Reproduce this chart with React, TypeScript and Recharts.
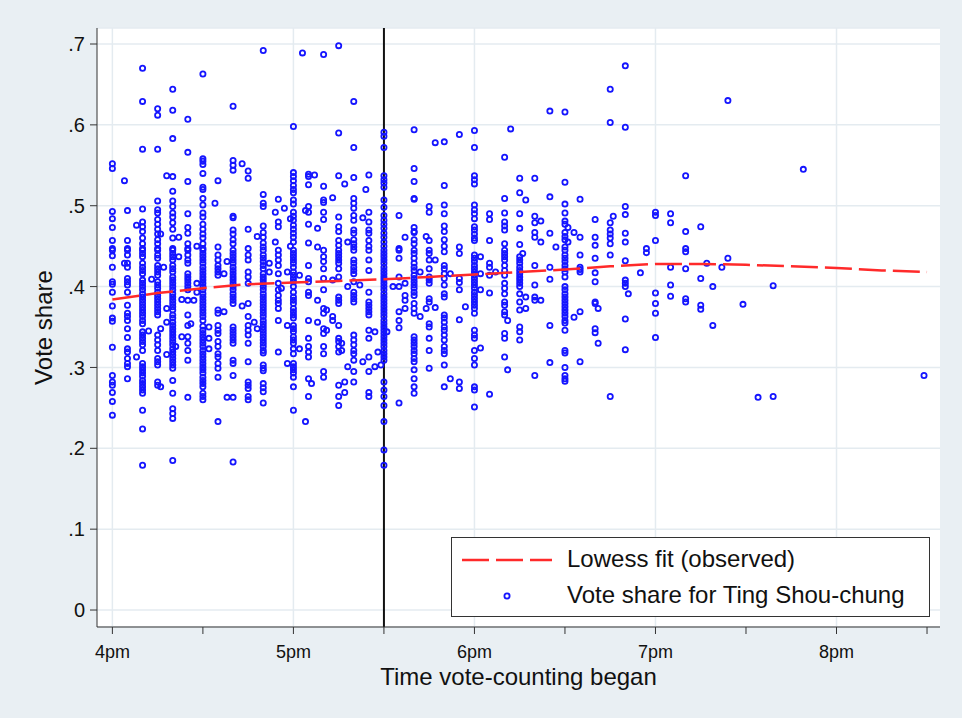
import React from 'react';
import { ScatterChart, Scatter, XAxis, YAxis, CartesianGrid, ReferenceLine } from 'recharts';

// minutes after 4pm at which vote-counting began (5-minute slots, plus a few off-slot stations)
const minutesAfter4pm: number[] = [
  0, 4, 5, 8, 10, 12, 13, 15, 16, 17, 18, 20, 21, 22, 23, 25, 26, 27, 28, 30,
  32, 34, 35, 37, 38, 40, 43, 45, 47, 48, 50, 52, 54, 55, 56, 57, 58, 59, 60,
  62, 63, 64, 65, 66, 67, 68, 70, 71, 73, 75, 76, 77, 78, 80, 82, 83, 84, 85,
  87, 88, 89, 90, 91, 93, 95, 97, 100, 102, 104, 105, 107, 110, 112, 115, 117,
  120, 122, 125, 127, 130, 131, 132, 135, 136, 137, 140, 142, 145, 147, 150,
  151, 153, 155, 160, 161, 165, 166, 170, 171, 175, 177, 180, 185, 190, 195,
  197, 199, 202, 204, 209, 214, 219, 229, 269,
];

// vote shares observed at each of the times above
const voteShares: number[][] = [
  [0.552,0.546,0.493,0.484,0.473,0.457,0.447,0.445,0.438,0.424,0.406,0.403,0.393,0.376,0.361,0.357,0.325,0.290,0.282,0.278,0.269,0.258,0.241],
  [0.531,0.429],
  [0.494,0.457,0.447,0.445,0.439,0.429,0.424,0.410,0.406,0.402,0.393,0.377,0.367,0.363,0.358,0.348,0.337,0.323,0.319,0.311,0.305,0.301,0.286],
  [0.476,0.313],
  [0.670,0.629,0.570,0.496,0.480,0.474,0.468,0.460,0.453,0.447,0.445,0.441,0.437,0.429,0.424,0.420,0.416,0.408,0.404,0.400,0.396,0.391,0.387,0.383,0.379,0.375,0.371,0.367,0.363,0.358,0.354,0.344,0.340,0.336,0.332,0.328,0.321,0.305,0.301,0.297,0.293,0.289,0.284,0.280,0.276,0.272,0.268,0.247,0.224,0.179],
  [0.345],
  [0.409],
  [0.620,0.612,0.570,0.506,0.495,0.491,0.483,0.477,0.471,0.465,0.458,0.453,0.447,0.445,0.439,0.435,0.426,0.422,0.418,0.414,0.406,0.402,0.398,0.393,0.389,0.385,0.381,0.377,0.373,0.369,0.365,0.340,0.334,0.328,0.321,0.311,0.307,0.303,0.282,0.278],
  [0.465,0.348,0.276],
  [0.424],
  [0.537,0.373,0.356,0.316],
  [0.644,0.618,0.583,0.536,0.518,0.506,0.499,0.491,0.486,0.479,0.471,0.460,0.447,0.445,0.441,0.437,0.433,0.426,0.422,0.418,0.412,0.408,0.404,0.400,0.396,0.391,0.387,0.383,0.379,0.375,0.371,0.365,0.361,0.356,0.352,0.348,0.344,0.340,0.336,0.332,0.328,0.323,0.319,0.315,0.311,0.307,0.303,0.299,0.284,0.268,0.249,0.243,0.237,0.185],
  [0.326],
  [0.461,0.437],
  [0.384,0.338],
  [0.607,0.566,0.530,0.490,0.473,0.466,0.453,0.447,0.445,0.439,0.433,0.429,0.416,0.412,0.408,0.404,0.400,0.396,0.383,0.365,0.352,0.338,0.330,0.321,0.309,0.263],
  [0.354],
  [0.383],
  [0.450,0.404,0.393],
  [0.663,0.558,0.555,0.551,0.540,0.523,0.520,0.509,0.501,0.491,0.486,0.477,0.471,0.465,0.460,0.453,0.447,0.445,0.441,0.437,0.433,0.429,0.424,0.420,0.416,0.412,0.408,0.404,0.400,0.396,0.391,0.387,0.383,0.379,0.375,0.371,0.367,0.363,0.358,0.351,0.346,0.342,0.338,0.334,0.330,0.326,0.321,0.317,0.313,0.309,0.305,0.301,0.297,0.293,0.288,0.284,0.280,0.276,0.268,0.264,0.260],
  [0.350,0.336,0.323],
  [0.503],
  [0.531,0.449,0.439,0.433,0.426,0.422,0.418,0.414,0.371,0.367,0.352,0.346,0.342,0.332,0.326,0.317,0.313,0.305,0.299,0.288,0.233],
  [0.416,0.369],
  [0.431,0.263],
  [0.623,0.556,0.550,0.544,0.487,0.485,0.470,0.465,0.458,0.453,0.445,0.441,0.437,0.433,0.429,0.424,0.420,0.416,0.412,0.408,0.404,0.400,0.396,0.391,0.387,0.383,0.379,0.350,0.346,0.342,0.338,0.334,0.330,0.309,0.305,0.290,0.263,0.183],
  [0.552,0.376],
  [0.543,0.534,0.471,0.447,0.439,0.433,0.418,0.412,0.404,0.379,0.363,0.352,0.346,0.340,0.330,0.307,0.282,0.278,0.274,0.264,0.260],
  [0.356],
  [0.462,0.348],
  [0.692,0.514,0.503,0.499,0.475,0.467,0.461,0.454,0.449,0.445,0.439,0.435,0.431,0.426,0.422,0.416,0.412,0.408,0.404,0.400,0.396,0.391,0.387,0.383,0.379,0.375,0.371,0.367,0.363,0.358,0.354,0.350,0.346,0.342,0.338,0.334,0.330,0.326,0.321,0.318,0.303,0.299,0.296,0.280,0.275,0.270,0.256],
  [0.429,0.418],
  [0.492,0.455],
  [0.508,0.480,0.474,0.445,0.439,0.433,0.426,0.416,0.404,0.396,0.389,0.383,0.379,0.373,0.358,0.319],
  [0.398],
  [0.497],
  [0.418,0.352,0.305],
  [0.484,0.450],
  [0.598,0.541,0.536,0.531,0.525,0.520,0.516,0.507,0.502,0.492,0.487,0.482,0.476,0.471,0.466,0.461,0.455,0.445,0.441,0.437,0.433,0.429,0.424,0.418,0.414,0.410,0.406,0.400,0.393,0.387,0.383,0.379,0.373,0.369,0.365,0.361,0.352,0.348,0.344,0.338,0.334,0.330,0.323,0.317,0.305,0.301,0.297,0.293,0.288,0.276,0.247],
  [0.414,0.323],
  [0.689],
  [0.494,0.233],
  [0.539,0.536,0.526,0.499,0.492,0.477,0.454,0.426,0.410,0.406,0.393,0.389,0.358,0.336,0.326,0.319,0.313,0.286,0.264],
  [0.280],
  [0.538],
  [0.472,0.449,0.383,0.356],
  [0.687,0.524,0.507,0.504,0.492,0.483,0.445,0.437,0.431,0.422,0.410,0.396,0.373,0.367,0.348,0.342,0.326,0.317,0.295,0.288],
  [0.371,0.346],
  [0.510,0.408,0.363,0.358],
  [0.698,0.590,0.537,0.486,0.474,0.468,0.457,0.451,0.445,0.441,0.437,0.433,0.429,0.422,0.412,0.387,0.383,0.379,0.352,0.336,0.332,0.326,0.319,0.278,0.264,0.253],
  [0.330,0.321],
  [0.527,0.282,0.269],
  [0.455,0.400,0.301],
  [0.629,0.572,0.535,0.509,0.503,0.497,0.488,0.482,0.470,0.466,0.458,0.453,0.449,0.445,0.433,0.429,0.424,0.420,0.416,0.406,0.393,0.389,0.385,0.381,0.340,0.334,0.328,0.321,0.317,0.309,0.295,0.282],
  [0.402],
  [0.485,0.307],
  [0.520],
  [0.538,0.492,0.480,0.470,0.466,0.457,0.450,0.445,0.433,0.420,0.393,0.381,0.377,0.373,0.369,0.365,0.346,0.336,0.313,0.295,0.269,0.264],
  [0.344,0.301],
  [0.319],
  [0.303],
  [0.591,0.586,0.572,0.537,0.532,0.528,0.523,0.507,0.498,0.488,0.482,0.477,0.472,0.466,0.461,0.455,0.450,0.445,0.441,0.437,0.433,0.429,0.424,0.420,0.416,0.412,0.408,0.404,0.400,0.396,0.391,0.387,0.383,0.379,0.375,0.371,0.367,0.363,0.358,0.354,0.350,0.346,0.342,0.338,0.334,0.330,0.326,0.321,0.317,0.313,0.309,0.282,0.272,0.264,0.253,0.233,0.198,0.179],
  [0.344],
  [0.400],
  [0.488,0.447,0.445,0.435,0.412,0.400,0.369,0.358,0.349,0.256],
  [0.461,0.404,0.389,0.383,0.373],
  [0.594,0.546,0.530,0.509,0.508,0.473,0.468,0.467,0.458,0.453,0.445,0.441,0.435,0.429,0.424,0.420,0.414,0.410,0.406,0.402,0.398,0.393,0.389,0.379,0.373,0.367,0.338,0.334,0.330,0.326,0.321,0.317,0.311,0.307,0.297,0.286,0.276,0.268],
  [0.418,0.363],
  [0.462,0.373],
  [0.499,0.492,0.457,0.445,0.441,0.433,0.422,0.412,0.408,0.404,0.385,0.381,0.354,0.350,0.336,0.321,0.299],
  [0.578,0.433,0.374],
  [0.579,0.525,0.501,0.490,0.475,0.468,0.458,0.450,0.443,0.426,0.422,0.416,0.410,0.402,0.391,0.387,0.365,0.361,0.356,0.350,0.346,0.340,0.334,0.326,0.321,0.317,0.303,0.276],
  [0.416,0.286],
  [0.588,0.449,0.441,0.410,0.405,0.396,0.359,0.282,0.274],
  [0.375],
  [0.593,0.572,0.537,0.532,0.527,0.501,0.495,0.490,0.484,0.474,0.470,0.465,0.460,0.457,0.439,0.435,0.431,0.426,0.422,0.418,0.414,0.410,0.406,0.402,0.398,0.393,0.389,0.385,0.381,0.377,0.373,0.367,0.346,0.340,0.336,0.321,0.311,0.303,0.276,0.272,0.251],
  [0.437,0.416,0.396,0.324],
  [0.490,0.483,0.457,0.429,0.424,0.414,0.392,0.267],
  [0.418],
  [0.560,0.509,0.491,0.480,0.475,0.470,0.453,0.445,0.441,0.437,0.433,0.426,0.420,0.414,0.404,0.398,0.391,0.381,0.377,0.369,0.365,0.342,0.336,0.313],
  [0.358,0.297],
  [0.595],
  [0.534,0.516,0.490,0.472,0.452,0.437,0.433,0.429,0.424,0.420,0.416,0.412,0.408,0.404,0.400,0.391,0.381,0.371,0.350,0.344,0.334],
  [0.441],
  [0.507,0.387,0.373],
  [0.534,0.487,0.479,0.467,0.461,0.426,0.402,0.387,0.383,0.290],
  [0.481,0.455,0.383],
  [0.617,0.511,0.466,0.424,0.409,0.352,0.306],
  [0.449],
  [0.616,0.529,0.502,0.491,0.481,0.477,0.467,0.462,0.458,0.449,0.445,0.439,0.435,0.431,0.426,0.422,0.418,0.412,0.400,0.396,0.391,0.387,0.383,0.379,0.375,0.371,0.367,0.363,0.358,0.355,0.346,0.321,0.318,0.300,0.290,0.286,0.283],
  [0.473,0.455],
  [0.467,0.362],
  [0.508,0.461,0.439,0.424,0.421,0.418,0.369,0.307],
  [0.483,0.461,0.451,0.435,0.417,0.406,0.381,0.379,0.348,0.343],
  [0.373,0.330],
  [0.644,0.603,0.479,0.470,0.465,0.460,0.453,0.439,0.264],
  [0.487],
  [0.673,0.597,0.499,0.489,0.466,0.455,0.432,0.408,0.404,0.400,0.360,0.322],
  [0.391],
  [0.417],
  [0.447,0.442],
  [0.492,0.488,0.457,0.392,0.379,0.367,0.337],
  [0.490,0.479,0.424,0.402,0.388],
  [0.537,0.468,0.447,0.443,0.422,0.385,0.381],
  [0.474,0.410,0.377,0.372],
  [0.429],
  [0.400,0.352],
  [0.424],
  [0.630,0.435],
  [0.378],
  [0.263],
  [0.401,0.264],
  [0.545],
  [0.290],
];

// lowess fit (observed)
const lowessMinutes: number[] = [0, 15, 30, 45, 60, 75, 90, 105, 120, 135, 150, 165, 180, 195, 210, 225, 240, 255, 270];
const lowessShares: number[] = [0.384, 0.392, 0.398, 0.403, 0.405, 0.407, 0.409, 0.412, 0.415, 0.418, 0.421, 0.425, 0.428, 0.428, 0.427, 0.425, 0.423, 0.420, 0.418];

const xTicks: number[] = [0, 30, 60, 90, 120, 150, 180, 210, 240, 270];
const xGridHours: number[] = [0, 60, 120, 180, 240];
const yTicks: number[] = [0, 0.1, 0.2, 0.3, 0.4, 0.5, 0.6, 0.7];
const cutoffMinute = 90; // 5:30pm

const FONT = '"Liberation Sans", Arial, Helvetica, sans-serif';
const BLUE = '#1515ff';
const RED = '#ff2a2a';

const points = minutesAfter4pm.flatMap((m, i) => voteShares[i].map((v) => ({ m, v })));
const lowess = lowessMinutes.map((m, i) => ({ m, v: lowessShares[i] }));

const fmtX = (m: number) => (m % 60 === 0 ? `${4 + m / 60}pm` : '');
const fmtY = (v: number) => (v === 0 ? '0' : '.' + Math.round(v * 10));

const Hollow = (p: any) => (
  <circle cx={p.cx} cy={p.cy} r={2.6} fill="none" stroke={BLUE} strokeWidth={1.8} />
);
const NoShape = () => <g />;

const YTitle = (props: any) => {
  const vb = props.viewBox || { x: 0, y: 28, width: 97, height: 599 };
  const cx = 43;
  const cy = vb.y + vb.height / 2;
  return (
    <text x={cx} y={cy} transform={`rotate(-90 ${cx} ${cy})`} textAnchor="middle" dominantBaseline="central"
      fontFamily={FONT} fontSize={24} fill="#111">
      Vote share
    </text>
  );
};

export default function App() {
  return (
    <div style={{ position: 'fixed', left: 0, top: 0, width: 962, height: 718, background: '#e9eff3', fontFamily: FONT }}>
      <ScatterChart width={962} height={718} margin={{ top: 28, right: 22, bottom: 31, left: 0 }}>
        <CartesianGrid vertical={false} stroke="#e4ebf0" strokeWidth={1.5} fill="#ffffff" />
        {xGridHours.map((h) => (
          <ReferenceLine key={h} x={h} stroke="#e4ebf0" strokeWidth={1.5} />
        ))}
        <XAxis
          type="number"
          dataKey="m"
          domain={[-5.1, 274.3]}
          allowDataOverflow
          ticks={xTicks}
          tickFormatter={fmtX}
          interval={0}
          tickSize={7}
          tickMargin={11}
          height={60}
          stroke="#333"
          tick={{ fontSize: 18, fill: '#111', fontFamily: FONT }}
          label={{ value: 'Time vote-counting began', position: 'insideBottom', offset: 2, fontSize: 24, fill: '#111', fontFamily: FONT }}
        />
        <YAxis
          type="number"
          dataKey="v"
          domain={[-0.021, 0.7198]}
          allowDataOverflow
          ticks={yTicks}
          tickFormatter={fmtY}
          interval={0}
          width={97}
          tickSize={7}
          tickMargin={5}
          stroke="#333"
          tick={{ fontSize: 20, fill: '#111', fontFamily: FONT }}
          label={<YTitle />}
        />
        <ReferenceLine x={cutoffMinute} stroke="#111" strokeWidth={2} />
        <Scatter name="Vote share for Ting Shou-chung" data={points} shape={Hollow} isAnimationActive={false} />
        <Scatter
          name="Lowess fit (observed)"
          data={lowess}
          shape={NoShape}
          line={{ stroke: RED, strokeWidth: 2.5, strokeDasharray: '27 7' }}
          lineType="joint"
          isAnimationActive={false}
        />
      </ScatterChart>
      <div
        style={{
          position: 'absolute', left: 451, top: 537, width: 479, height: 80,
          border: '1.5px solid #333', background: '#fff', boxSizing: 'border-box',
        }}
      >
        <svg width={110} height={80} style={{ position: 'absolute', left: 0, top: 0 }}>
          <line x1={10} y1={22} x2={100} y2={22} stroke={RED} strokeWidth={2.5} strokeDasharray="27 7" />
          <circle cx={55} cy={58} r={2.6} fill="none" stroke={BLUE} strokeWidth={1.8} />
        </svg>
        <div style={{ position: 'absolute', left: 115, top: 7, fontSize: 24, color: '#111', whiteSpace: 'nowrap' }}>
          Lowess fit (observed)
        </div>
        <div style={{ position: 'absolute', left: 115, top: 43, fontSize: 24, color: '#111', whiteSpace: 'nowrap' }}>
          Vote share for Ting Shou-chung
        </div>
      </div>
    </div>
  );
}
